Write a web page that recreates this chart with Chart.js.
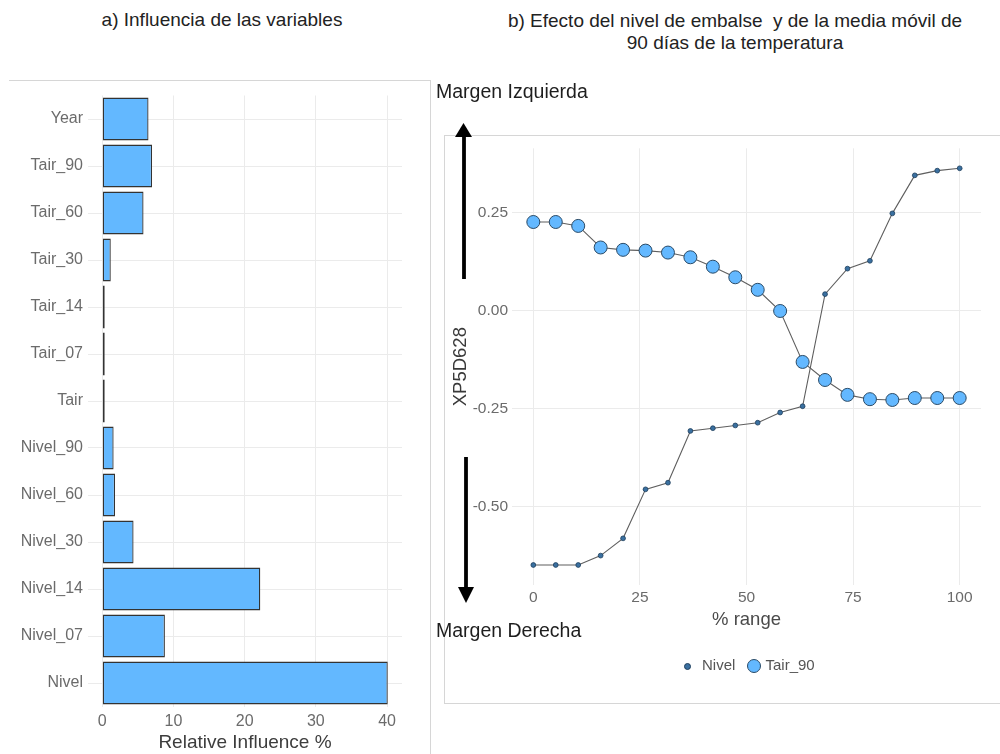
<!DOCTYPE html>
<html>
<head>
<meta charset="utf-8">
<script src="https://cdn.jsdelivr.net/npm/chart.js@4.4.0/dist/chart.umd.min.js"></script>
<style>
  body { margin: 0; width: 1000px; height: 754px; overflow: hidden; background: #fff;
         font-family: "Liberation Sans", Arial, sans-serif; position: relative; }
  .abs { position: absolute; }
  .title { font-size: 19px; color: #222; text-align: center; line-height: 22px; white-space: nowrap; }
  .margin-label { font-size: 19.5px; color: #1e1e1e; white-space: nowrap; }
  .legend { font-size: 15px; color: #555; white-space: nowrap; }
</style>
</head>
<body>
<div class="abs title" style="left:22px; top:9px; width:400px;">a) Influencia de las variables</div>
<div class="abs title" style="left:435px; top:10px; width:600px;">b) Efecto del nivel de embalse &nbsp;y de la media móvil de<br>90 días de la temperatura</div>

<div class="abs" style="left:9px; top:80px; width:421px; height:680px; border-top:1px solid #d6d6d6; border-right:1px solid #d6d6d6;"></div>
<div class="abs" style="left:444px; top:135px; width:600px; height:567px; border:1px solid #d6d6d6;"></div>

<canvas id="barChart" class="abs" width="431" height="674" style="left:0; top:80px;"></canvas>
<canvas id="pdpChart" class="abs" width="555" height="568" style="left:445px; top:135px;"></canvas>

<svg class="abs" width="1000" height="754" style="left:0; top:0;">
  <line x1="464" y1="279" x2="464" y2="134" stroke="#000" stroke-width="3.8"/>
  <polygon points="463.5,123 455,137 472,137" fill="#000"/>
  <line x1="466" y1="457" x2="466" y2="590" stroke="#000" stroke-width="3.8"/>
  <polygon points="466,603 458,587 474,587" fill="#000"/>
</svg>

<div class="abs margin-label" style="left:436px; top:80px;">Margen Izquierda</div>
<div class="abs margin-label" style="left:436px; top:619px;">Margen Derecha</div>

<div class="abs legend" style="left:684px; top:656px;">
  <span style="display:inline-block; width:5px; height:5px; border-radius:50%; background:#3a70a0; border:0.5px solid #1d3d5c; vertical-align:middle; margin-right:11px;"></span>Nivel
  <span style="display:inline-block; width:12px; height:12px; border-radius:50%; background:#63b8ff; border:1px solid #2a4a66; vertical-align:middle; margin:0 5px 0 7px;"></span>Tair_90
</div>

<script>
const variables = ['Year', 'Tair_90', 'Tair_60', 'Tair_30', 'Tair_14', 'Tair_07', 'Tair',
                   'Nivel_90', 'Nivel_60', 'Nivel_30', 'Nivel_14', 'Nivel_07', 'Nivel'];
const influence = [6.5, 7.0, 5.8, 1.2, 0.35, 0.35, 0.35, 1.6, 1.8, 4.4, 22.2, 8.8, 40.1];
const influenceTicks = [0, 10, 20, 30, 40];

const pctRange = [0, 5.26, 10.53, 15.79, 21.05, 26.32, 31.58, 36.84, 42.11, 47.37,
                  52.63, 57.89, 63.16, 68.42, 73.68, 78.95, 84.21, 89.47, 94.74, 100];
const nivel = [-0.648, -0.648, -0.648, -0.624, -0.580, -0.455, -0.438, -0.306, -0.299, -0.292,
               -0.285, -0.259, -0.243, 0.043, 0.108, 0.128, 0.249, 0.346, 0.358, 0.364];
const tair90 = [0.227, 0.227, 0.217, 0.162, 0.156, 0.154, 0.149, 0.137, 0.113, 0.086,
                0.054, 0.000, -0.130, -0.176, -0.214, -0.225, -0.227, -0.222, -0.222, -0.222];
const rangeTicks = [0, 25, 50, 75, 100];
const effectTicks = [-0.5, -0.25, 0, 0.25];

Chart.defaults.font.family = '"Liberation Sans", Arial, sans-serif';
Chart.defaults.animation = false;

const gridColor = '#ebebeb';
const tickColor = '#6b6b6b';
const titleColor = '#3d3d3d';

new Chart(document.getElementById('barChart'), {
    type: 'bar',
    data: {
        labels: variables,
        datasets: [{
            data: influence,
            backgroundColor: '#63b8ff',
            borderColor: '#333333',
            borderWidth: 1.3,
            borderSkipped: false,
            barPercentage: 0.91,
            categoryPercentage: 1.0
        }]
    },
    options: {
        indexAxis: 'y',
        responsive: false,
        devicePixelRatio: 1,
        layout: { padding: { left: 0, right: 29, top: 15.5, bottom: 0 } },
        plugins: { legend: { display: false }, tooltip: { enabled: false } },
        scales: {
            x: {
                min: -2.0,
                max: 42.1,
                afterBuildTicks: s => { s.ticks = influenceTicks.map(v => ({ value: v })); },
                afterFit: s => { s.height = 47.5; },
                grid: { color: gridColor, drawTicks: false },
                border: { display: false },
                ticks: { color: tickColor, font: { size: 16 }, padding: 5 },
                title: { display: true, text: 'Relative Influence %', color: titleColor,
                         font: { size: 19 }, padding: 0 }
            },
            y: {
                afterFit: s => { s.width = 88; },
                grid: { color: gridColor, drawTicks: false, offset: false },
                border: { display: false },
                ticks: { color: tickColor, font: { size: 16 }, padding: 5 }
            }
        }
    }
});

new Chart(document.getElementById('pdpChart'), {
    type: 'scatter',
    data: {
        datasets: [
            {
                label: 'Tair_90',
                data: pctRange.map((x, i) => ({ x: x, y: tair90[i] })),
                showLine: true,
                borderColor: '#5f5f5f',
                borderWidth: 1.1,
                pointRadius: 6.5,
                pointBackgroundColor: '#63b8ff',
                pointBorderColor: '#2a4a66',
                pointBorderWidth: 1
            },
            {
                label: 'Nivel',
                data: pctRange.map((x, i) => ({ x: x, y: nivel[i] })),
                showLine: true,
                borderColor: '#5f5f5f',
                borderWidth: 1.1,
                pointRadius: 2.4,
                pointBackgroundColor: '#3a70a0',
                pointBorderColor: '#1d3d5c',
                pointBorderWidth: 0.8
            }
        ]
    },
    options: {
        responsive: false,
        devicePixelRatio: 1,
        layout: { padding: { left: 5, right: 19, top: 9, bottom: 72 } },
        plugins: { legend: { display: false }, tooltip: { enabled: false } },
        scales: {
            x: {
                type: 'linear',
                min: -5,
                max: 105,
                afterBuildTicks: s => { s.ticks = rangeTicks.map(v => ({ value: v })); },
                afterFit: s => { s.height = 46; },
                grid: { color: gridColor, drawTicks: false },
                border: { display: false },
                ticks: { color: tickColor, font: { size: 15.5 }, padding: 3 },
                title: { display: true, text: '% range', color: '#4a4a4a',
                         font: { size: 18.5 }, padding: 0 }
            },
            y: {
                min: -0.699,
                max: 0.415,
                afterBuildTicks: s => { s.ticks = effectTicks.map(v => ({ value: v })); },
                afterFit: s => { s.width = 62; },
                grid: { color: gridColor, drawTicks: false },
                border: { display: false },
                ticks: { color: tickColor, font: { size: 15.5 }, padding: 4,
                         callback: v => v.toFixed(2) },
                title: { display: true, text: 'XP5D628', color: '#3a3a3a',
                         font: { size: 18.5 }, padding: 0 }
            }
        }
    }
});
</script>
</body>
</html>
